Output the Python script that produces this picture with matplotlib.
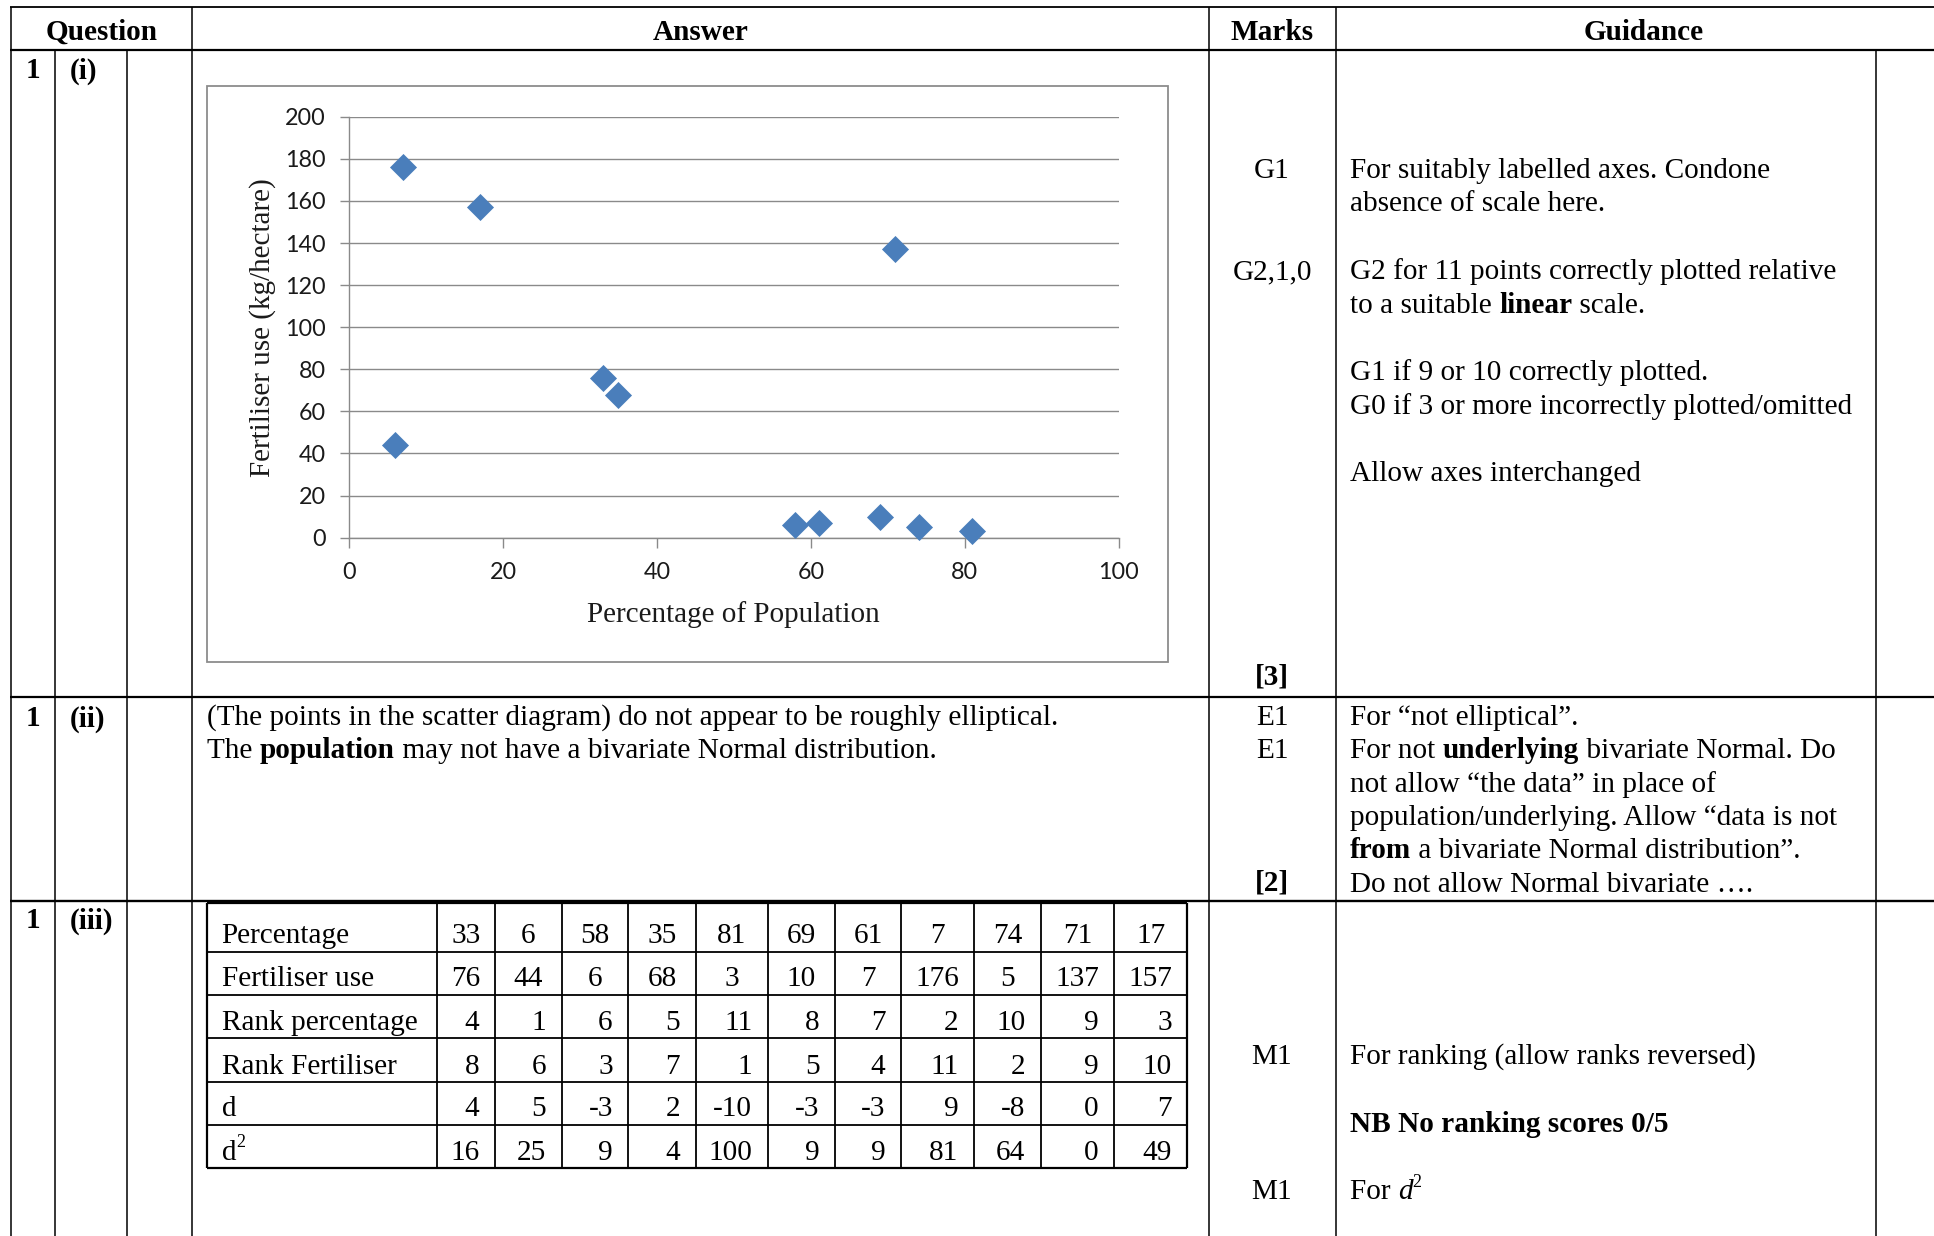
import matplotlib
matplotlib.use("Agg")
import matplotlib.pyplot as plt
from matplotlib.patches import Rectangle

# ---------------- data ----------------
percentage = [33, 6, 58, 35, 81, 69, 61, 7, 74, 71, 17]
fertiliser = [76, 44, 6, 68, 3, 10, 7, 176, 5, 137, 157]
rank_percentage = [4, 1, 6, 5, 11, 8, 7, 2, 10, 9, 3]
rank_fertiliser = [8, 6, 3, 7, 1, 5, 4, 11, 2, 9, 10]
d_values = [4, 5, -3, 2, -10, -3, -3, 9, -8, 0, 7]
d2_values = [16, 25, 9, 4, 100, 9, 9, 81, 64, 0, 49]
x_ticks = [0, 20, 40, 60, 80, 100]
y_ticks = [0, 20, 40, 60, 80, 100, 120, 140, 160, 180, 200]
row_labels = ["Percentage", "Fertiliser use", "Rank percentage",
              "Rank Fertiliser", "d", "d"]

SERIF = "Liberation Serif"
SANS = "Lato"
FS = 21.1

W, H = 1934, 1236
fig = plt.figure(figsize=(W / 100, H / 100), dpi=100)
fig.patch.set_facecolor("white")
bg = fig.add_axes([0, 0, 1, 1])
bg.set_xlim(0, W)
bg.set_ylim(H, 0)
bg.axis("off")
renderer = fig.canvas.get_renderer()


def width_of(s, **kw):
    t1 = bg.text(0, 0, "x" + s + "x", **kw)
    t2 = bg.text(0, 0, "xx", **kw)
    w = t1.get_window_extent(renderer).width - t2.get_window_extent(renderer).width
    t1.remove(); t2.remove()
    return w


def segs(x, y, parts, size=FS):
    for s, st in parts:
        kw = dict(fontsize=size, family=SERIF,
                  weight="bold" if "b" in st else "normal",
                  style="italic" if "i" in st else "normal")
        yy = y
        if "s" in st:
            kw["fontsize"] = size * 0.62
            yy = y - size * 1.389 * 0.42
        bg.text(x, yy, s, va="baseline", ha="left", color="black", **kw)
        x += width_of(s, **kw)


def txt(x, y, s, ha="left", bold=False, size=FS):
    bg.text(x, y, s, va="baseline", ha=ha, fontsize=size, family=SERIF,
            weight="bold" if bold else "normal", color="black")


def hline(y, x0, x1, lw=1.1):
    bg.plot([x0, x1], [y, y], color="black", lw=lw, solid_capstyle="butt")


def vline(x, y0, y1, lw=1.1):
    bg.plot([x, x], [y0, y1], color="black", lw=lw, solid_capstyle="butt")


# ---------------- main table grid ----------------
COLS = [11, 54.5, 126.8, 192.4, 1208.7, 1335.8, 1876]
Y_TOP, Y_HEAD, Y_R1, Y_R2 = 6.8, 50, 697, 901
hline(Y_TOP, 10, W, lw=1.3)
hline(Y_HEAD, 10, W, lw=1.6)
hline(Y_R1, 10, W, lw=1.6)
hline(Y_R2, 10, W, lw=1.7)
for x in [COLS[0], COLS[3], COLS[4], COLS[5]]:
    vline(x, Y_TOP, Y_HEAD)
for x in COLS:
    vline(x, Y_HEAD, H)

# header
txt(101.5, 39.5, "Question", ha="center", bold=True)
txt(700.5, 39.5, "Answer", ha="center", bold=True)
txt(1272, 39.5, "Marks", ha="center", bold=True)
txt(1644, 39.5, "Guidance", ha="center", bold=True)

# question numbers
for yb, part in [(78.5, "(i)"), (726.5, "(ii)"), (928.5, "(iii)")]:
    txt(32.7, yb, "1", ha="center", bold=True)
    txt(69.3, yb, part, bold=True)

# ---------------- row 1(i): chart ----------------
bg.add_patch(Rectangle((206.7, 86), 1168.3 - 206.7, 661.7 - 86,
                       facecolor="white", edgecolor="#8c8c8c", lw=1.3))

ax_l, ax_r, ax_t, ax_b = 349.0, 1118.7, 116.7, 537.7
ax = fig.add_axes([ax_l / W, 1 - ax_b / H, (ax_r - ax_l) / W, (ax_b - ax_t) / H])
ax.set_facecolor("none")
ax.scatter(percentage, fertiliser, marker="D", s=190, color="#4a7ebb",
           linewidths=0, zorder=3, clip_on=False)
ax.set_xlim(0, 100)
ax.set_ylim(0, 200)
ax.set_xticks(x_ticks)
ax.set_yticks(y_ticks)
ax.set_xticklabels([str(v) for v in x_ticks])
ax.set_yticklabels([str(v) for v in y_ticks])
ax.grid(axis="y", color="#8a8a8a", lw=1.0)
ax.set_axisbelow(True)
for side in ["top", "right"]:
    ax.spines[side].set_visible(False)
for side in ["left", "bottom"]:
    ax.spines[side].set_color("#8a8a8a")
    ax.spines[side].set_linewidth(1.0)
ax.tick_params(axis="x", direction="out", length=7.2, width=1.0, color="#8a8a8a",
               pad=10.5, labelsize=16.8, labelcolor="#1a1a1a")
ax.tick_params(axis="y", direction="out", length=6.5, width=1.0, color="#8a8a8a",
               pad=10, labelsize=16.8, labelcolor="#1a1a1a")
for lab in ax.get_xticklabels() + ax.get_yticklabels():
    lab.set_family(SANS)
ax.set_xlabel("Percentage of Population", family=SERIF, fontsize=21, color="#1a1a1a")
ax.set_ylabel("Fertiliser use (kg/hectare)", family=SERIF, fontsize=21, color="#1a1a1a")
ax.xaxis.set_label_coords(0.5, -0.150)
ax.yaxis.set_label_coords(-0.095, 0.5)

# marks / guidance row 1(i)
MX, GX = 1272, 1350
txt(MX, 178, "G1", ha="center")
segs(GX, 178, [("For suitably labelled axes. Condone", "")])
segs(GX, 211.3, [("absence of scale here.", "")])
txt(MX, 279.3, "G2,1,0", ha="center")
segs(GX, 279.3, [("G2 for 11 points correctly plotted relative", "")])
segs(GX, 312.6, [("to a suitable ", ""), ("linear", "b"), (" scale.", "")])
segs(GX, 380.3, [("G1 if 9 or 10 correctly plotted.", "")])
segs(GX, 413.6, [("G0 if 3 or more incorrectly plotted/omitted", "")])
segs(GX, 481.4, [("Allow axes interchanged", "")])
txt(MX, 685, "[3]", ha="center", bold=True)

# ---------------- row 1(ii) ----------------
AX = 207.3
segs(AX, 725, [("(The points in the scatter diagram) do not appear to be roughly elliptical.", "")])
segs(AX, 758.3, [("The ", ""), ("population", "b"),
                 (" may not have a bivariate Normal distribution.", "")])
txt(MX, 725, "E1", ha="center")
txt(MX, 758.3, "E1", ha="center")
txt(MX, 891, "[2]", ha="center", bold=True)
segs(GX, 725, [("For \u201cnot elliptical\u201d.", "")])
segs(GX, 758.3, [("For not ", ""), ("underlying", "b"), (" bivariate Normal. Do", "")])
segs(GX, 791.6, [("not allow \u201cthe data\u201d in place of", "")])
segs(GX, 825, [("population/underlying. Allow \u201cdata is not", "")])
segs(GX, 858.3, [("from", "b"), (" a bivariate Normal distribution\u201d.", "")])
segs(GX, 891.6, [("Do not allow Normal bivariate \u2026.", "")])

# ---------------- row 1(iii): ranking table ----------------
TCOLS = [206.7, 436.7, 495, 561.7, 628.3, 695.7, 767.7, 835, 901, 974, 1041, 1114, 1187.3]
TROWS = [902.7, 951.7, 995, 1038.3, 1082.3, 1125, 1168.3]
for i, y in enumerate(TROWS):
    hline(y, TCOLS[0], TCOLS[-1], lw=1.6 if i in (0, len(TROWS) - 1) else 1.3)
for j, x in enumerate(TCOLS):
    vline(x, TROWS[0], TROWS[-1], lw=1.6 if j in (0, len(TCOLS) - 1) else 1.3)

table_rows = [percentage, fertiliser, rank_percentage, rank_fertiliser, d_values, d2_values]
for r, (label, vals) in enumerate(zip(row_labels, table_rows)):
    yb = TROWS[r + 1] - 8.5
    if r == 5:
        segs(TCOLS[0] + 15, yb, [("d", ""), ("2", "s")])
    else:
        txt(TCOLS[0] + 15, yb, label)
    for c, v in enumerate(vals):
        x0, x1 = TCOLS[c + 1], TCOLS[c + 2]
        if r < 2:
            txt((x0 + x1) / 2, yb, str(v), ha="center")
        else:
            txt(x1 - 15.5, yb, str(v), ha="right")

txt(MX, 1064, "M1", ha="center")
segs(GX, 1064, [("For ranking (allow ranks reversed)", "")])
segs(GX, 1132, [("NB No ranking scores 0/5", "b")])
txt(MX, 1199, "M1", ha="center")
segs(GX, 1199, [("For ", ""), ("d", "i"), ("2", "s")])

fig.savefig("out.png", dpi=100, facecolor="white")
